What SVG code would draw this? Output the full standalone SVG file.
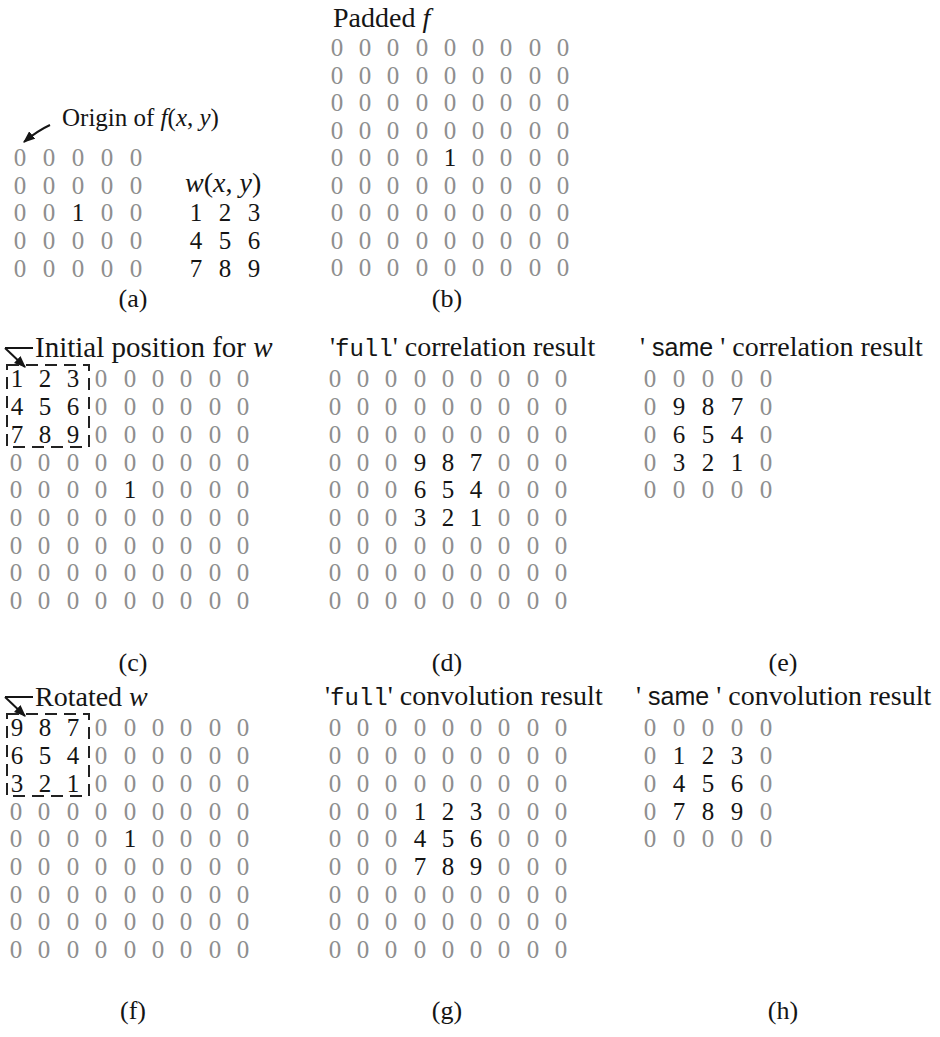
<svg xmlns="http://www.w3.org/2000/svg" width="940" height="1037" viewBox="0 0 940 1037">
<style>
text{font-family:"Liberation Serif","Times New Roman",serif}
.z{fill:#8e8e8e;font-size:25px;text-anchor:middle}
.d{fill:#151515;font-size:25px;text-anchor:middle}
.lbl{fill:#151515;font-size:28px}
.cap{fill:#151515;font-size:26px;text-anchor:middle}
.it{font-style:italic}
.mono{font-family:"Liberation Mono","Courier New",monospace;font-size:24px}
.sans{font-family:"Liberation Sans",Arial,sans-serif;font-size:25px}
.box{fill:none;stroke:#222;stroke-width:2;stroke-dasharray:12 7}
.arr{fill:none;stroke:#151515;stroke-width:2}
</style>
<defs>
<marker id="ah" viewBox="0 0 10 8" refX="9" refY="4" markerWidth="12" markerHeight="10" markerUnits="userSpaceOnUse" orient="auto">
<path d="M0,0 L10,4 L0,8 Z" fill="#151515"/>
</marker>
</defs>
<rect width="940" height="1037" fill="#ffffff"/>

<g id="connectors">
<path class="arr" d="M50,125 Q37,131 24,142" marker-end="url(#ah)"/>
<path class="arr" d="M5,348 H33"/>
<path class="arr" d="M5,348 L25,367" marker-end="url(#ah)"/>
<path class="arr" d="M5,697 H33"/>
<path class="arr" d="M5,697 L25,716" marker-end="url(#ah)"/>
</g>

<g id="panel-a">
<text class="lbl" x="62" y="126" style="font-size:25px">Origin of <tspan class="it">f</tspan>(<tspan class="it">x</tspan>, <tspan class="it">y</tspan>)</text>
<g class="z">
<text x="20" y="166">0</text><text x="49" y="166">0</text><text x="78" y="166">0</text><text x="107" y="166">0</text><text x="136" y="166">0</text>
<text x="20" y="194">0</text><text x="49" y="194">0</text><text x="78" y="194">0</text><text x="107" y="194">0</text><text x="136" y="194">0</text>
<text x="20" y="221">0</text><text x="49" y="221">0</text><text x="107" y="221">0</text><text x="136" y="221">0</text>
<text x="20" y="249">0</text><text x="49" y="249">0</text><text x="78" y="249">0</text><text x="107" y="249">0</text><text x="136" y="249">0</text>
<text x="20" y="277">0</text><text x="49" y="277">0</text><text x="78" y="277">0</text><text x="107" y="277">0</text><text x="136" y="277">0</text>
</g>
<text class="d" x="78" y="221">1</text>
<text class="cap" x="133" y="307">(a)</text>
</g>

<g id="kernel-w">
<text class="lbl" x="185" y="192"><tspan class="it">w</tspan>(<tspan class="it">x</tspan>, <tspan class="it">y</tspan>)</text>
<text class="d" x="196" y="221">1</text><text class="d" x="225" y="221">2</text><text class="d" x="254" y="221">3</text>
<text class="d" x="196" y="249">4</text><text class="d" x="225" y="249">5</text><text class="d" x="254" y="249">6</text>
<text class="d" x="196" y="277">7</text><text class="d" x="225" y="277">8</text><text class="d" x="254" y="277">9</text>
</g>

<g id="panel-b">
<text class="lbl" x="333" y="27">Padded <tspan class="it">f</tspan></text>
<g class="z">
<text x="337" y="56">0</text><text x="365" y="56">0</text><text x="393" y="56">0</text><text x="422" y="56">0</text><text x="450" y="56">0</text><text x="478" y="56">0</text><text x="506" y="56">0</text><text x="535" y="56">0</text><text x="563" y="56">0</text>
<text x="337" y="84">0</text><text x="365" y="84">0</text><text x="393" y="84">0</text><text x="422" y="84">0</text><text x="450" y="84">0</text><text x="478" y="84">0</text><text x="506" y="84">0</text><text x="535" y="84">0</text><text x="563" y="84">0</text>
<text x="337" y="111">0</text><text x="365" y="111">0</text><text x="393" y="111">0</text><text x="422" y="111">0</text><text x="450" y="111">0</text><text x="478" y="111">0</text><text x="506" y="111">0</text><text x="535" y="111">0</text><text x="563" y="111">0</text>
<text x="337" y="139">0</text><text x="365" y="139">0</text><text x="393" y="139">0</text><text x="422" y="139">0</text><text x="450" y="139">0</text><text x="478" y="139">0</text><text x="506" y="139">0</text><text x="535" y="139">0</text><text x="563" y="139">0</text>
<text x="337" y="166">0</text><text x="365" y="166">0</text><text x="393" y="166">0</text><text x="422" y="166">0</text><text x="478" y="166">0</text><text x="506" y="166">0</text><text x="535" y="166">0</text><text x="563" y="166">0</text>
<text x="337" y="194">0</text><text x="365" y="194">0</text><text x="393" y="194">0</text><text x="422" y="194">0</text><text x="450" y="194">0</text><text x="478" y="194">0</text><text x="506" y="194">0</text><text x="535" y="194">0</text><text x="563" y="194">0</text>
<text x="337" y="221">0</text><text x="365" y="221">0</text><text x="393" y="221">0</text><text x="422" y="221">0</text><text x="450" y="221">0</text><text x="478" y="221">0</text><text x="506" y="221">0</text><text x="535" y="221">0</text><text x="563" y="221">0</text>
<text x="337" y="249">0</text><text x="365" y="249">0</text><text x="393" y="249">0</text><text x="422" y="249">0</text><text x="450" y="249">0</text><text x="478" y="249">0</text><text x="506" y="249">0</text><text x="535" y="249">0</text><text x="563" y="249">0</text>
<text x="337" y="276">0</text><text x="365" y="276">0</text><text x="393" y="276">0</text><text x="422" y="276">0</text><text x="450" y="276">0</text><text x="478" y="276">0</text><text x="506" y="276">0</text><text x="535" y="276">0</text><text x="563" y="276">0</text>
</g>
<text class="d" x="450" y="166">1</text>
<text class="cap" x="447" y="307">(b)</text>
</g>

<g id="panel-c">
<text class="lbl" x="35" y="357" style="font-size:29px">Initial position for <tspan class="it">w</tspan></text>
<rect class="box" x="7" y="365" width="82" height="82"/>
<text class="d" x="17" y="387">1</text><text class="d" x="45" y="387">2</text><text class="d" x="73" y="387">3</text>
<text class="d" x="17" y="415">4</text><text class="d" x="45" y="415">5</text><text class="d" x="73" y="415">6</text>
<text class="d" x="17" y="443">7</text><text class="d" x="45" y="443">8</text><text class="d" x="73" y="443">9</text>
<text class="d" x="130" y="498">1</text>
<g class="z">
<text x="101" y="387">0</text><text x="130" y="387">0</text><text x="158" y="387">0</text><text x="186" y="387">0</text><text x="215" y="387">0</text><text x="243" y="387">0</text>
<text x="101" y="415">0</text><text x="130" y="415">0</text><text x="158" y="415">0</text><text x="186" y="415">0</text><text x="215" y="415">0</text><text x="243" y="415">0</text>
<text x="101" y="443">0</text><text x="130" y="443">0</text><text x="158" y="443">0</text><text x="186" y="443">0</text><text x="215" y="443">0</text><text x="243" y="443">0</text>
<text x="16" y="471">0</text><text x="44" y="471">0</text><text x="73" y="471">0</text><text x="101" y="471">0</text><text x="130" y="471">0</text><text x="158" y="471">0</text><text x="186" y="471">0</text><text x="215" y="471">0</text><text x="243" y="471">0</text>
<text x="16" y="498">0</text><text x="44" y="498">0</text><text x="73" y="498">0</text><text x="101" y="498">0</text><text x="158" y="498">0</text><text x="186" y="498">0</text><text x="215" y="498">0</text><text x="243" y="498">0</text>
<text x="16" y="526">0</text><text x="44" y="526">0</text><text x="73" y="526">0</text><text x="101" y="526">0</text><text x="130" y="526">0</text><text x="158" y="526">0</text><text x="186" y="526">0</text><text x="215" y="526">0</text><text x="243" y="526">0</text>
<text x="16" y="554">0</text><text x="44" y="554">0</text><text x="73" y="554">0</text><text x="101" y="554">0</text><text x="130" y="554">0</text><text x="158" y="554">0</text><text x="186" y="554">0</text><text x="215" y="554">0</text><text x="243" y="554">0</text>
<text x="16" y="581">0</text><text x="44" y="581">0</text><text x="73" y="581">0</text><text x="101" y="581">0</text><text x="130" y="581">0</text><text x="158" y="581">0</text><text x="186" y="581">0</text><text x="215" y="581">0</text><text x="243" y="581">0</text>
<text x="16" y="609">0</text><text x="44" y="609">0</text><text x="73" y="609">0</text><text x="101" y="609">0</text><text x="130" y="609">0</text><text x="158" y="609">0</text><text x="186" y="609">0</text><text x="215" y="609">0</text><text x="243" y="609">0</text>
</g>
<text class="cap" x="133" y="671">(c)</text>
</g>

<g id="panel-d">
<text class="lbl" x="330" y="356">'<tspan class="mono">full</tspan>' correlation result</text>
<g class="z">
<text x="335" y="387">0</text><text x="363" y="387">0</text><text x="391" y="387">0</text><text x="420" y="387">0</text><text x="448" y="387">0</text><text x="476" y="387">0</text><text x="504" y="387">0</text><text x="533" y="387">0</text><text x="561" y="387">0</text>
<text x="335" y="415">0</text><text x="363" y="415">0</text><text x="391" y="415">0</text><text x="420" y="415">0</text><text x="448" y="415">0</text><text x="476" y="415">0</text><text x="504" y="415">0</text><text x="533" y="415">0</text><text x="561" y="415">0</text>
<text x="335" y="443">0</text><text x="363" y="443">0</text><text x="391" y="443">0</text><text x="420" y="443">0</text><text x="448" y="443">0</text><text x="476" y="443">0</text><text x="504" y="443">0</text><text x="533" y="443">0</text><text x="561" y="443">0</text>
<text x="335" y="471">0</text><text x="363" y="471">0</text><text x="391" y="471">0</text><text x="504" y="471">0</text><text x="533" y="471">0</text><text x="561" y="471">0</text>
<text x="335" y="498">0</text><text x="363" y="498">0</text><text x="391" y="498">0</text><text x="504" y="498">0</text><text x="533" y="498">0</text><text x="561" y="498">0</text>
<text x="335" y="526">0</text><text x="363" y="526">0</text><text x="391" y="526">0</text><text x="504" y="526">0</text><text x="533" y="526">0</text><text x="561" y="526">0</text>
<text x="335" y="554">0</text><text x="363" y="554">0</text><text x="391" y="554">0</text><text x="420" y="554">0</text><text x="448" y="554">0</text><text x="476" y="554">0</text><text x="504" y="554">0</text><text x="533" y="554">0</text><text x="561" y="554">0</text>
<text x="335" y="581">0</text><text x="363" y="581">0</text><text x="391" y="581">0</text><text x="420" y="581">0</text><text x="448" y="581">0</text><text x="476" y="581">0</text><text x="504" y="581">0</text><text x="533" y="581">0</text><text x="561" y="581">0</text>
<text x="335" y="609">0</text><text x="363" y="609">0</text><text x="391" y="609">0</text><text x="420" y="609">0</text><text x="448" y="609">0</text><text x="476" y="609">0</text><text x="504" y="609">0</text><text x="533" y="609">0</text><text x="561" y="609">0</text>
</g>
<text class="d" x="420" y="471">9</text><text class="d" x="448" y="471">8</text><text class="d" x="476" y="471">7</text>
<text class="d" x="420" y="498">6</text><text class="d" x="448" y="498">5</text><text class="d" x="476" y="498">4</text>
<text class="d" x="420" y="526">3</text><text class="d" x="448" y="526">2</text><text class="d" x="476" y="526">1</text>
<text class="cap" x="447" y="671">(d)</text>
</g>

<g id="panel-e">
<text class="lbl" x="640" y="356">' <tspan class="sans">same</tspan> ' correlation result</text>
<g class="z">
<text x="650" y="387">0</text><text x="679" y="387">0</text><text x="708" y="387">0</text><text x="737" y="387">0</text><text x="766" y="387">0</text>
<text x="650" y="415">0</text><text x="766" y="415">0</text>
<text x="650" y="443">0</text><text x="766" y="443">0</text>
<text x="650" y="471">0</text><text x="766" y="471">0</text>
<text x="650" y="498">0</text><text x="679" y="498">0</text><text x="708" y="498">0</text><text x="737" y="498">0</text><text x="766" y="498">0</text>
</g>
<text class="d" x="679" y="415">9</text><text class="d" x="708" y="415">8</text><text class="d" x="737" y="415">7</text>
<text class="d" x="679" y="443">6</text><text class="d" x="708" y="443">5</text><text class="d" x="737" y="443">4</text>
<text class="d" x="679" y="471">3</text><text class="d" x="708" y="471">2</text><text class="d" x="737" y="471">1</text>
<text class="cap" x="783" y="671">(e)</text>
</g>

<g id="panel-f">
<text class="lbl" x="35" y="706">Rotated <tspan class="it">w</tspan></text>
<rect class="box" x="7" y="714" width="82" height="82"/>
<text class="d" x="17" y="736">9</text><text class="d" x="45" y="736">8</text><text class="d" x="73" y="736">7</text>
<text class="d" x="17" y="764">6</text><text class="d" x="45" y="764">5</text><text class="d" x="73" y="764">4</text>
<text class="d" x="17" y="792">3</text><text class="d" x="45" y="792">2</text><text class="d" x="73" y="792">1</text>
<text class="d" x="130" y="847">1</text>
<g class="z">
<text x="101" y="736">0</text><text x="130" y="736">0</text><text x="158" y="736">0</text><text x="186" y="736">0</text><text x="215" y="736">0</text><text x="243" y="736">0</text>
<text x="101" y="764">0</text><text x="130" y="764">0</text><text x="158" y="764">0</text><text x="186" y="764">0</text><text x="215" y="764">0</text><text x="243" y="764">0</text>
<text x="101" y="792">0</text><text x="130" y="792">0</text><text x="158" y="792">0</text><text x="186" y="792">0</text><text x="215" y="792">0</text><text x="243" y="792">0</text>
<text x="16" y="820">0</text><text x="44" y="820">0</text><text x="73" y="820">0</text><text x="101" y="820">0</text><text x="130" y="820">0</text><text x="158" y="820">0</text><text x="186" y="820">0</text><text x="215" y="820">0</text><text x="243" y="820">0</text>
<text x="16" y="847">0</text><text x="44" y="847">0</text><text x="73" y="847">0</text><text x="101" y="847">0</text><text x="158" y="847">0</text><text x="186" y="847">0</text><text x="215" y="847">0</text><text x="243" y="847">0</text>
<text x="16" y="875">0</text><text x="44" y="875">0</text><text x="73" y="875">0</text><text x="101" y="875">0</text><text x="130" y="875">0</text><text x="158" y="875">0</text><text x="186" y="875">0</text><text x="215" y="875">0</text><text x="243" y="875">0</text>
<text x="16" y="903">0</text><text x="44" y="903">0</text><text x="73" y="903">0</text><text x="101" y="903">0</text><text x="130" y="903">0</text><text x="158" y="903">0</text><text x="186" y="903">0</text><text x="215" y="903">0</text><text x="243" y="903">0</text>
<text x="16" y="930">0</text><text x="44" y="930">0</text><text x="73" y="930">0</text><text x="101" y="930">0</text><text x="130" y="930">0</text><text x="158" y="930">0</text><text x="186" y="930">0</text><text x="215" y="930">0</text><text x="243" y="930">0</text>
<text x="16" y="958">0</text><text x="44" y="958">0</text><text x="73" y="958">0</text><text x="101" y="958">0</text><text x="130" y="958">0</text><text x="158" y="958">0</text><text x="186" y="958">0</text><text x="215" y="958">0</text><text x="243" y="958">0</text>
</g>
<text class="cap" x="133" y="1019">(f)</text>
</g>

<g id="panel-g">
<text class="lbl" x="325" y="705">'<tspan class="mono">full</tspan>' convolution result</text>
<g class="z">
<text x="335" y="736">0</text><text x="363" y="736">0</text><text x="391" y="736">0</text><text x="420" y="736">0</text><text x="448" y="736">0</text><text x="476" y="736">0</text><text x="504" y="736">0</text><text x="533" y="736">0</text><text x="561" y="736">0</text>
<text x="335" y="764">0</text><text x="363" y="764">0</text><text x="391" y="764">0</text><text x="420" y="764">0</text><text x="448" y="764">0</text><text x="476" y="764">0</text><text x="504" y="764">0</text><text x="533" y="764">0</text><text x="561" y="764">0</text>
<text x="335" y="792">0</text><text x="363" y="792">0</text><text x="391" y="792">0</text><text x="420" y="792">0</text><text x="448" y="792">0</text><text x="476" y="792">0</text><text x="504" y="792">0</text><text x="533" y="792">0</text><text x="561" y="792">0</text>
<text x="335" y="820">0</text><text x="363" y="820">0</text><text x="391" y="820">0</text><text x="504" y="820">0</text><text x="533" y="820">0</text><text x="561" y="820">0</text>
<text x="335" y="847">0</text><text x="363" y="847">0</text><text x="391" y="847">0</text><text x="504" y="847">0</text><text x="533" y="847">0</text><text x="561" y="847">0</text>
<text x="335" y="875">0</text><text x="363" y="875">0</text><text x="391" y="875">0</text><text x="504" y="875">0</text><text x="533" y="875">0</text><text x="561" y="875">0</text>
<text x="335" y="903">0</text><text x="363" y="903">0</text><text x="391" y="903">0</text><text x="420" y="903">0</text><text x="448" y="903">0</text><text x="476" y="903">0</text><text x="504" y="903">0</text><text x="533" y="903">0</text><text x="561" y="903">0</text>
<text x="335" y="930">0</text><text x="363" y="930">0</text><text x="391" y="930">0</text><text x="420" y="930">0</text><text x="448" y="930">0</text><text x="476" y="930">0</text><text x="504" y="930">0</text><text x="533" y="930">0</text><text x="561" y="930">0</text>
<text x="335" y="958">0</text><text x="363" y="958">0</text><text x="391" y="958">0</text><text x="420" y="958">0</text><text x="448" y="958">0</text><text x="476" y="958">0</text><text x="504" y="958">0</text><text x="533" y="958">0</text><text x="561" y="958">0</text>
</g>
<text class="d" x="420" y="820">1</text><text class="d" x="448" y="820">2</text><text class="d" x="476" y="820">3</text>
<text class="d" x="420" y="847">4</text><text class="d" x="448" y="847">5</text><text class="d" x="476" y="847">6</text>
<text class="d" x="420" y="875">7</text><text class="d" x="448" y="875">8</text><text class="d" x="476" y="875">9</text>
<text class="cap" x="447" y="1019">(g)</text>
</g>

<g id="panel-h">
<text class="lbl" x="636" y="705">' <tspan class="sans">same</tspan> ' convolution result</text>
<g class="z">
<text x="650" y="736">0</text><text x="679" y="736">0</text><text x="708" y="736">0</text><text x="737" y="736">0</text><text x="766" y="736">0</text>
<text x="650" y="764">0</text><text x="766" y="764">0</text>
<text x="650" y="792">0</text><text x="766" y="792">0</text>
<text x="650" y="820">0</text><text x="766" y="820">0</text>
<text x="650" y="847">0</text><text x="679" y="847">0</text><text x="708" y="847">0</text><text x="737" y="847">0</text><text x="766" y="847">0</text>
</g>
<text class="d" x="679" y="764">1</text><text class="d" x="708" y="764">2</text><text class="d" x="737" y="764">3</text>
<text class="d" x="679" y="792">4</text><text class="d" x="708" y="792">5</text><text class="d" x="737" y="792">6</text>
<text class="d" x="679" y="820">7</text><text class="d" x="708" y="820">8</text><text class="d" x="737" y="820">9</text>
<text class="cap" x="783" y="1019">(h)</text>
</g>
</svg>
